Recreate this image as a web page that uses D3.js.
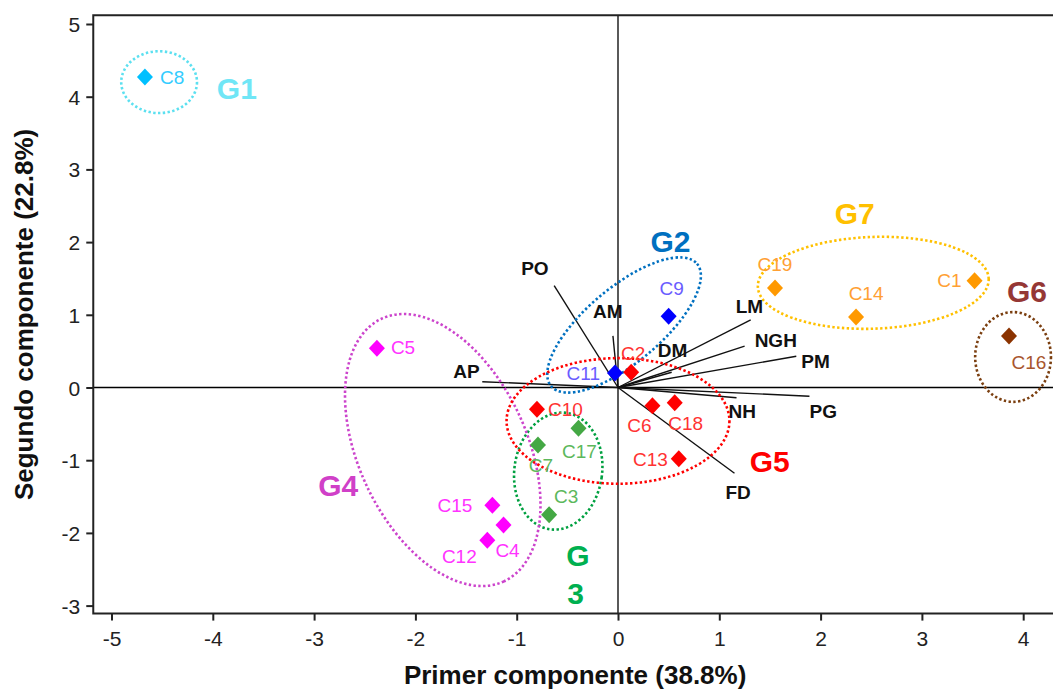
<!DOCTYPE html>
<html><head><meta charset="utf-8">
<script src="https://cdn.jsdelivr.net/npm/d3@7"></script>
<style>html,body{margin:0;padding:0;background:#fff;}svg{display:block;}</style>
</head><body>
<svg id="chart" width="1053" height="689"></svg>
<script>
// ---- data ----
const cultivars = ["C8","C9","C11","C2","C10","C6","C18","C13","C17","C7","C3","C5","C15","C4","C12","C19","C14","C1","C16"];
const pc1 = [-4.67,0.50,-0.03,0.13,-0.80,0.34,0.56,0.60,-0.39,-0.79,-0.68,-2.38,-1.24,-1.13,-1.29,1.55,2.35,3.52,3.86];
const pc2 = [4.27,0.98,0.20,0.21,-0.30,-0.25,-0.21,-0.98,-0.56,-0.79,-1.75,0.54,-1.62,-1.89,-2.10,1.37,0.97,1.47,0.71];
const groupOf = ["G1","G2","G2","G5","G5","G5","G5","G5","G3","G3","G3","G4","G4","G4","G4","G7","G7","G7","G6"];

const variables = ["PO","AM","AP","DM","LM","NGH","PM","NH","PG","FD"];
const load1 = [-0.63,-0.05,-1.34,0.53,1.31,1.25,1.76,1.17,1.89,1.15];
const load2 = [1.40,0.71,0.08,0.21,0.93,0.57,0.43,-0.14,-0.12,-1.18];

const groups = ["G1","G2","G3","G4","G5","G6","G7"];
// ellipse (data units): centre, semi-axes (in PC1 units), rotation
const ellCx = [-4.53,0.06,-0.59,-1.73,0.00,3.90,2.52];
const ellCy = [4.20,0.86,-1.15,-0.86,-0.46,0.42,1.44];
const ellA  = [0.374,0.94,0.433,1.43,1.10,0.374,1.14];
const ellB  = [0.305,0.37,0.58,0.83,0.62,0.443,0.453];
const ellRot = [0,-40,8,65,0,0,-2];
// group label anchor (data units)
const glabX = [-3.96,0.32,-0.51,-2.96,1.30,3.84,2.14];
const glabY = [3.97,1.86,-2.46,-1.49,-1.16,1.18,2.25];

const xTicks = [-5,-4,-3,-2,-1,0,1,2,3,4];
const yTicks = [-3,-2,-1,0,1,2,3,4,5];
const xTitle = "Primer componente (38.8%)";
const yTitle = "Segundo componente (22.8%)";

// ---- styles ----
const ptColor = {G1:"#00c0ff",G2:"#0000ff",G3:"#44a844",G4:"#ff00ff",G5:"#ff0000",G6:"#8b3300",G7:"#ff9900"};
const lbColor = {G1:"#33ccff",G2:"#6a5cff",G3:"#5cb85c",G4:"#ff33ff",G5:"#ff3333",G6:"#a8552d",G7:"#ffa033"};
const elColor = {G1:"#5ce0f0",G2:"#0070c0",G3:"#00a040",G4:"#cc44cc",G5:"#ff0000",G6:"#7b3f10",G7:"#ffc000"};
const gColor  = {G1:"#70e6f6",G2:"#0070c0",G3:"#00b050",G4:"#d040c8",G5:"#ff0000",G6:"#953735",G7:"#ffc000"};

// label offsets (px) for point labels: [dx, dy, anchor]
const ptLab = {
  C8:[15,7,"start"], C9:[3,-21,"middle"], C11:[-15,7,"end"], C2:[2,-12,"middle"],
  C10:[11,7,"start"], C6:[-13,26,"middle"], C18:[11,27,"middle"], C13:[-11,7,"end"],
  C17:[1,30,"middle"], C7:[3,27,"middle"], C3:[5,-12,"start"], C5:[14,6,"start"],
  C15:[-20,7,"end"], C4:[4,32,"middle"], C12:[-28,23,"middle"], C19:[0,-17,"middle"],
  C14:[10,-17,"middle"], C1:[-13,6,"end"], C16:[20,33,"middle"]
};
const varLab = {
  PO:[-33,-11], AM:[-20,-18], AP:[-29,-4], DM:[-14,-15], LM:[-15,-7],
  NGH:[10,1], PM:[5,12], NH:[-8,20], PG:[0,22], FD:[-9,26]
};

const svg = d3.select("#chart");
svg.append("rect").attr("width",1053).attr("height",689).attr("fill","#fff");

const x = d3.scaleLinear().domain([-5,4]).range([111.5,1023.2]);
const y = d3.scaleLinear().domain([-3,5]).range([605.6,24]);
const ux = x(1)-x(0);
const xMin=-5.18, xMax=4.5, yMin=-3.11, yMax=5.12;

// zero lines
svg.append("line").attr("x1",x(0)).attr("x2",x(0)).attr("y1",y(yMin)).attr("y2",y(yMax))
  .attr("stroke","#000").attr("stroke-width",1.3);
svg.append("line").attr("x1",x(xMin)).attr("x2",x(xMax)).attr("y1",y(0)).attr("y2",y(0))
  .attr("stroke","#000").attr("stroke-width",1.3);

// axes
const fontTick = "'Liberation Sans', Arial, sans-serif";
const fmt = d => String(d);
const gx = svg.append("g").attr("transform",`translate(0,${y(yMin)})`)
  .call(d3.axisBottom(x).tickValues(xTicks).tickFormat(fmt).tickSize(7).tickPadding(10).tickSizeOuter(0));
const gy = svg.append("g").attr("transform",`translate(${x(xMin)},0)`)
  .call(d3.axisLeft(y).tickValues(yTicks).tickFormat(fmt).tickSize(7).tickPadding(6).tickSizeOuter(0));
[gx,gy].forEach(g=>{
  g.select(".domain").remove();
  g.selectAll(".tick line").attr("stroke","#222").attr("stroke-width",2);
  g.selectAll(".tick text").attr("font-family",fontTick).attr("font-size",21).attr("fill","#222");
});
gy.selectAll(".tick text").attr("dy","0.36em");
// frame: left, bottom, top
svg.append("path")
  .attr("d",`M${x(xMax)},${y(yMax)}H${x(xMin)}V${y(yMin)}H${x(xMax)}`)
  .attr("fill","none").attr("stroke","#222").attr("stroke-width",2);

// axis titles
svg.append("text").attr("x",(x(xMin)+1053)/2 + 2).attr("y",684).attr("text-anchor","middle")
  .attr("font-family",fontTick).attr("font-weight","bold").attr("font-size",26).attr("fill","#111")
  .text(xTitle);
svg.append("text").attr("transform",`translate(33,${(y(yMin)+y(yMax))/2}) rotate(-90)`)
  .attr("text-anchor","middle")
  .attr("font-family",fontTick).attr("font-weight","bold").attr("font-size",26).attr("fill","#111")
  .text(yTitle);

// vectors
const vars = variables.map((v,i)=>({name:v, a:load1[i], b:load2[i]}));
svg.append("g").selectAll("line").data(vars).join("line")
  .attr("x1",x(0)).attr("y1",y(0)).attr("x2",d=>x(d.a)).attr("y2",d=>y(d.b))
  .attr("stroke","#111").attr("stroke-width",1.4);

// ellipses
const ells = groups.map((g,i)=>({g, cx:ellCx[i], cy:ellCy[i], a:ellA[i], b:ellB[i], r:ellRot[i]}));
svg.append("g").selectAll("ellipse").data(ells).join("ellipse")
  .attr("cx",d=>x(d.cx)).attr("cy",d=>y(d.cy))
  .attr("rx",d=>d.a*ux).attr("ry",d=>d.b*ux)
  .attr("transform",d=>`rotate(${d.r},${x(d.cx)},${y(d.cy)})`)
  .attr("fill","none").attr("stroke",d=>elColor[d.g]).attr("stroke-width",2.6)
  .attr("stroke-dasharray","2.4 2.4");

// points
const pts = cultivars.map((c,i)=>({name:c, a:pc1[i], b:pc2[i], g:groupOf[i]}));
const diamond = "M0,-8.5L8,0L0,8.5L-8,0Z";
svg.append("g").selectAll("path").data(pts).join("path")
  .attr("d",diamond).attr("transform",d=>`translate(${x(d.a)},${y(d.b)})`)
  .attr("fill",d=>ptColor[d.g]);

// point labels
svg.append("g").selectAll("text").data(pts).join("text")
  .attr("x",d=>x(d.a)+ptLab[d.name][0]).attr("y",d=>y(d.b)+ptLab[d.name][1])
  .attr("text-anchor",d=>ptLab[d.name][2])
  .attr("font-family",fontTick).attr("font-size",19).attr("fill",d=>lbColor[d.g])
  .text(d=>d.name);

// variable labels
svg.append("g").selectAll("text").data(vars).join("text")
  .attr("x",d=>x(d.a)+varLab[d.name][0]).attr("y",d=>y(d.b)+varLab[d.name][1])
  .attr("font-family",fontTick).attr("font-weight","bold").attr("font-size",19).attr("fill","#111")
  .text(d=>d.name);

// group labels
const gl = groups.map((g,i)=>({g, a:glabX[i], b:glabY[i]}));
const glT = svg.append("g").selectAll("text").data(gl).join("text")
  .attr("x",d=>x(d.a)).attr("y",d=>y(d.b))
  .attr("font-family",fontTick).attr("font-weight","bold").attr("font-size",30)
  .attr("fill",d=>gColor[d.g]);
glT.each(function(d){
  const t = d3.select(this);
  if(d.g==="G3"){
    t.append("tspan").attr("x",x(d.a)).text("G");
    t.append("tspan").attr("x",x(d.a)+1).attr("dy",38).text("3");
  } else t.text(d.g);
});
</script>
</body></html>
